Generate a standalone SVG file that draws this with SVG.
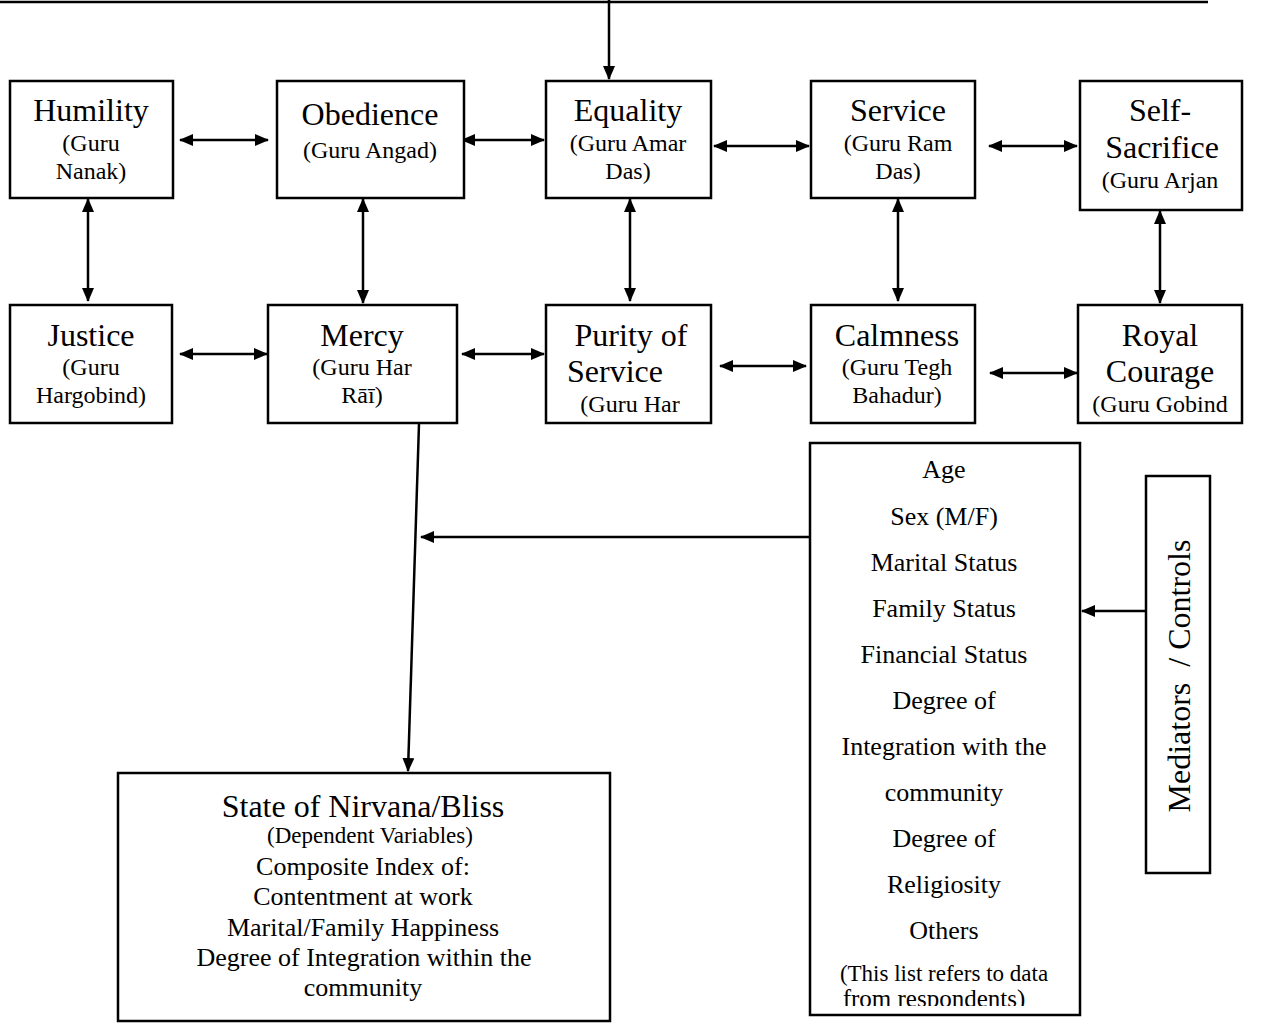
<svg xmlns="http://www.w3.org/2000/svg" width="1266" height="1023" viewBox="0 0 1266 1023" font-family="'Liberation Serif', 'Times New Roman', serif">
<style>
text{font-family:"Liberation Serif","Times New Roman",serif}
.box{fill:#fff;stroke:#000;stroke-width:2.5}
.t{fill:#000;text-anchor:middle}
.h{font-size:32px}
.s{font-size:24px}
.l{font-size:26px}
.m{font-size:23px}
.c{stroke:#000;stroke-width:2.5;fill:none}
</style>
<defs>
<marker id="ah" viewBox="0 0 14 12" refX="13" refY="6" markerWidth="14" markerHeight="12" markerUnits="userSpaceOnUse" orient="auto-start-reverse">
<path d="M0,0 L14,6 L0,12 Z" fill="#000"/>
</marker>
<clipPath id="clipList"><rect x="810" y="443" width="270" height="563"/></clipPath>
</defs>
<g id="connectors">
<line class="c" x1="0" y1="2" x2="1208" y2="2"/>
<line class="c" x1="609" y1="0" x2="609" y2="79" marker-end="url(#ah)"/>
<line class="c" x1="180" y1="140" x2="268" y2="140" marker-start="url(#ah)" marker-end="url(#ah)"/>
<line class="c" x1="462" y1="140" x2="544" y2="140" marker-start="url(#ah)" marker-end="url(#ah)"/>
<line class="c" x1="714" y1="146" x2="809" y2="146" marker-start="url(#ah)" marker-end="url(#ah)"/>
<line class="c" x1="989" y1="146" x2="1077" y2="146" marker-start="url(#ah)" marker-end="url(#ah)"/>
<line class="c" x1="180" y1="354" x2="267" y2="354" marker-start="url(#ah)" marker-end="url(#ah)"/>
<line class="c" x1="462" y1="354" x2="544" y2="354" marker-start="url(#ah)" marker-end="url(#ah)"/>
<line class="c" x1="720" y1="366" x2="806" y2="366" marker-start="url(#ah)" marker-end="url(#ah)"/>
<line class="c" x1="990" y1="373" x2="1077" y2="373" marker-start="url(#ah)" marker-end="url(#ah)"/>
<line class="c" x1="88" y1="199" x2="88" y2="301" marker-start="url(#ah)" marker-end="url(#ah)"/>
<line class="c" x1="363" y1="199" x2="363" y2="303" marker-start="url(#ah)" marker-end="url(#ah)"/>
<line class="c" x1="630" y1="199" x2="630" y2="301" marker-start="url(#ah)" marker-end="url(#ah)"/>
<line class="c" x1="898" y1="199" x2="898" y2="301" marker-start="url(#ah)" marker-end="url(#ah)"/>
<line class="c" x1="1160" y1="211" x2="1160" y2="303" marker-start="url(#ah)" marker-end="url(#ah)"/>
<line class="c" x1="419" y1="424" x2="408" y2="771" marker-end="url(#ah)"/>
<line class="c" x1="810" y1="537" x2="421" y2="537" marker-end="url(#ah)"/>
<line class="c" x1="1146" y1="611" x2="1082" y2="611" marker-end="url(#ah)"/>
</g>
<g id="humility">
<rect class="box" x="10" y="81" width="163" height="117"/>
<text class="t h" x="91" y="121">Humility</text>
<text class="t s" x="91" y="151">(Guru</text>
<text class="t s" x="91" y="179">Nanak)</text>
</g>
<g id="obedience">
<rect class="box" x="277" y="81" width="187" height="117"/>
<text class="t h" x="370" y="125">Obedience</text>
<text class="t s" x="370" y="158">(Guru Angad)</text>
</g>
<g id="equality">
<rect class="box" x="546" y="81" width="165" height="117"/>
<text class="t h" x="628" y="121">Equality</text>
<text class="t s" x="628" y="151">(Guru Amar</text>
<text class="t s" x="628" y="179">Das)</text>
</g>
<g id="service">
<rect class="box" x="811" y="81" width="164" height="117"/>
<text class="t h" x="898" y="121">Service</text>
<text class="t s" x="898" y="151">(Guru Ram</text>
<text class="t s" x="898" y="179">Das)</text>
</g>
<g id="self-sacrifice">
<rect class="box" x="1080" y="81" width="162" height="129"/>
<text class="t h" x="1160" y="121">Self-</text>
<text class="t h" x="1162" y="158">Sacrifice</text>
<text class="t s" x="1160" y="188">(Guru Arjan</text>
</g>
<g id="justice">
<rect class="box" x="10" y="305" width="162" height="118"/>
<text class="t h" x="91" y="346">Justice</text>
<text class="t s" x="91" y="375">(Guru</text>
<text class="t s" x="91" y="403">Hargobind)</text>
</g>
<g id="mercy">
<rect class="box" x="268" y="305" width="189" height="118"/>
<text class="t h" x="362" y="346">Mercy</text>
<text class="t s" x="362" y="375">(Guru Har</text>
<text class="t s" x="362" y="403">Rāī)</text>
</g>
<g id="purity">
<rect class="box" x="546" y="305" width="165" height="118"/>
<text class="t h" x="631" y="346">Purity of</text>
<text class="t h" x="567" y="382" style="text-anchor:start">Service</text>
<text class="t s" x="630" y="412">(Guru Har</text>
</g>
<g id="calmness">
<rect class="box" x="811" y="305" width="164" height="118"/>
<text class="t h" x="897" y="346">Calmness</text>
<text class="t s" x="897" y="375">(Guru Tegh</text>
<text class="t s" x="897" y="403">Bahadur)</text>
</g>
<g id="royal-courage">
<rect class="box" x="1078" y="305" width="164" height="118"/>
<text class="t h" x="1160" y="346">Royal</text>
<text class="t h" x="1160" y="382">Courage</text>
<text class="t s" x="1160" y="412">(Guru Gobind</text>
</g>
<g id="nirvana">
<rect class="box" x="118" y="773" width="492" height="248"/>
<text class="t h" x="363" y="817">State of Nirvana/Bliss</text>
<text class="t m" x="370" y="843">(Dependent Variables)</text>
<text class="t l" x="363" y="875">Composite Index of:</text>
<text class="t l" x="363" y="905">Contentment at work</text>
<text class="t l" x="363" y="936">Marital/Family Happiness</text>
<text class="t l" x="364" y="966">Degree of Integration within the</text>
<text class="t l" x="363" y="996">community</text>
</g>
<g id="controls-list">
<rect class="box" x="810" y="443" width="270" height="572"/>
<g clip-path="url(#clipList)">
<text class="t l" x="944" y="478">Age</text>
<text class="t l" x="944" y="525">Sex (M/F)</text>
<text class="t l" x="944" y="571">Marital Status</text>
<text class="t l" x="944" y="617">Family Status</text>
<text class="t l" x="944" y="663">Financial Status</text>
<text class="t l" x="944" y="709">Degree of</text>
<text class="t l" x="944" y="755">Integration with the</text>
<text class="t l" x="944" y="801">community</text>
<text class="t l" x="944" y="847">Degree of</text>
<text class="t l" x="944" y="893">Religiosity</text>
<text class="t l" x="944" y="939">Others</text>
<text class="t m" x="944" y="981">(This list refers to data</text>
<text class="t" x="934" y="1007" style="font-size:25px">from respondents)</text>
</g>
</g>
<g id="mediators">
<rect class="box" x="1146" y="476" width="64" height="397"/>
<text class="t h" x="0" y="0" transform="translate(1190,676) rotate(-90)" style="white-space:pre">Mediators  / Controls</text>
</g>
</svg>
